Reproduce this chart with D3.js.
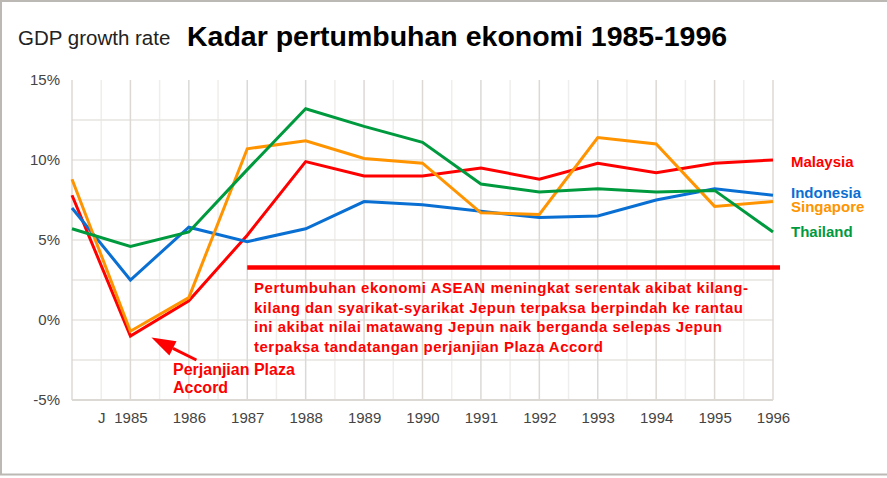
<!DOCTYPE html>
<html>
<head>
<meta charset="utf-8">
<script src="https://cdn.jsdelivr.net/npm/d3@7"></script>
<style>
  body { margin: 0; background: #fff; }
  svg { display: block; font-family: "Liberation Sans", Arial, sans-serif; }
</style>
</head>
<body>
<div id="chart"></div>
<script>
const years = [1984, 1985, 1986, 1987, 1988, 1989, 1990, 1991, 1992, 1993, 1994, 1995, 1996];

const malaysia  = [7.8, -1.0, 1.2, 5.3, 9.9, 9.0, 9.0, 9.5, 8.8, 9.8, 9.2, 9.8, 10.0];
const indonesia = [7.0, 2.5, 5.8, 4.9, 5.7, 7.4, 7.2, 6.8, 6.4, 6.5, 7.5, 8.2, 7.8];
const singapore = [8.8, -0.7, 1.4, 10.7, 11.2, 10.1, 9.8, 6.7, 6.6, 11.4, 11.0, 7.1, 7.4];
const thailand  = [5.7, 4.6, 5.5, 9.4, 13.2, 12.1, 11.1, 8.5, 8.0, 8.2, 8.0, 8.1, 5.5];

const seriesNames = ["Malaysia", "Indonesia", "Singapore", "Thailand"];
const xTickValues = [1984.5, 1985, 1986, 1987, 1988, 1989, 1990, 1991, 1992, 1993, 1994, 1995, 1996];
const xTickLabels = ["J", "1985", "1986", "1987", "1988", "1989", "1990", "1991", "1992", "1993", "1994", "1995", "1996"];
const yTickValues = [-5, 0, 5, 10, 15];

const noteLines = [
    "Pertumbuhan ekonomi ASEAN meningkat serentak akibat kilang-",
    "kilang dan syarikat-syarikat Jepun terpaksa berpindah ke rantau",
    "ini akibat nilai matawang Jepun naik berganda selepas Jepun",
    "terpaksa tandatangan perjanjian Plaza Accord"
];
const noteWidths = [494, 489, 468, 349];
const arrowLines = ["Perjanjian Plaza", "Accord"];

const width = 887, height = 478;
const margin = {top: 80, right: 114, bottom: 78, left: 72};

const series = [
    {name: seriesNames[0], values: malaysia,  color: "#ff0000", labelY: 167},
    {name: seriesNames[1], values: indonesia, color: "#0a6fd2", labelY: 198},
    {name: seriesNames[2], values: singapore, color: "#ff9400", labelY: 212},
    {name: seriesNames[3], values: thailand,  color: "#009a3e", labelY: 237}
];

const svg = d3.select("#chart").append("svg")
    .attr("width", width)
    .attr("height", height);

// outer frame
svg.append("rect")
    .attr("x", 1).attr("y", 1)
    .attr("width", width + 10).attr("height", 473.5)
    .attr("fill", "none")
    .attr("stroke", "#bcb8b4")
    .attr("stroke-width", 2);

const x = d3.scaleLinear().domain([1984, 1996]).range([margin.left, width - margin.right]);
const y = d3.scaleLinear().domain([-5, 15]).range([height - margin.bottom, margin.top]);

// grid
const grid = svg.append("g");
grid.selectAll(".vminor").data(d3.range(1984.5, 1996, 1)).enter().append("line")
    .attr("x1", d => x(d)).attr("x2", d => x(d))
    .attr("y1", y(15)).attr("y2", y(-5))
    .attr("stroke", "#efeeec").attr("stroke-width", 1.5);
grid.selectAll(".hgrid").data(d3.range(-2.5, 15, 2.5)).enter().append("line")
    .attr("x1", x(1984)).attr("x2", x(1996))
    .attr("y1", d => y(d)).attr("y2", d => y(d))
    .attr("stroke", "#e6e4e1").attr("stroke-width", 1.5);
grid.selectAll(".vmajor").data(d3.range(1985, 1997, 1)).enter().append("line")
    .attr("x1", d => x(d)).attr("x2", d => x(d))
    .attr("y1", y(15)).attr("y2", y(-5))
    .attr("stroke", "#dcd9d5").attr("stroke-width", 1.5);
grid.append("line")
    .attr("x1", x(1984)).attr("x2", x(1984))
    .attr("y1", y(15)).attr("y2", y(-5))
    .attr("stroke", "#dcd9d5").attr("stroke-width", 1.5);
grid.append("line")
    .attr("x1", x(1984)).attr("x2", x(1996))
    .attr("y1", y(-5)).attr("y2", y(-5))
    .attr("stroke", "#dcd9d5").attr("stroke-width", 2);

// axes (labels only)
const xAxis = d3.axisBottom(x)
    .tickValues(xTickValues)
    .tickFormat((d, i) => xTickLabels[i])
    .tickSize(0).tickPadding(12);
const xg = svg.append("g")
    .attr("transform", `translate(0,${y(-5)})`)
    .call(xAxis);
xg.select(".domain").remove();
xg.selectAll("text").attr("font-size", 15).attr("fill", "#444").attr("font-family", "Liberation Sans, Arial, sans-serif");

const yAxis = d3.axisLeft(y)
    .tickValues(yTickValues)
    .tickFormat(d => d + "%")
    .tickSize(0).tickPadding(12);
const yg = svg.append("g")
    .attr("transform", `translate(${x(1984)},0)`)
    .call(yAxis);
yg.select(".domain").remove();
yg.selectAll("text").attr("font-size", 15).attr("fill", "#444").attr("font-family", "Liberation Sans, Arial, sans-serif");

// lines
const line = d3.line()
    .x((d, i) => x(years[i]))
    .y(d => y(d));

svg.append("g").selectAll("path").data(series).enter().append("path")
    .attr("d", d => line(d.values))
    .attr("fill", "none")
    .attr("stroke", d => d.color)
    .attr("stroke-width", 3)
    .attr("stroke-linejoin", "miter");

// series labels
svg.append("g").selectAll("text").data(series).enter().append("text")
    .attr("x", 791)
    .attr("y", d => d.labelY)
    .attr("fill", d => d.color)
    .attr("font-size", 15)
    .attr("font-weight", "bold")
    .text(d => d.name);

// titles
svg.append("text")
    .attr("x", 18).attr("y", 45)
    .attr("font-size", 20.5)
    .attr("fill", "#222")
    .text("GDP growth rate");
svg.append("text")
    .attr("x", 187).attr("y", 46)
    .attr("font-size", 28.5)
    .attr("font-weight", "bold")
    .attr("fill", "#000")
    .text("Kadar pertumbuhan ekonomi 1985-1996");

// annotation: red bar + note
svg.append("line")
    .attr("x1", x(1987)).attr("x2", 780)
    .attr("y1", y(3.28)).attr("y2", y(3.28))
    .attr("stroke", "#ff0000")
    .attr("stroke-width", 4.5);

svg.append("g").selectAll("text").data(noteLines).enter().append("text")
    .attr("x", 254)
    .attr("y", (d, i) => 293 + i * 19.5)
    .attr("font-size", 15)
    .attr("font-weight", "bold")
    .attr("fill", "#ff0000")
    .attr("textLength", (d, i) => noteWidths[i])
    .attr("lengthAdjust", "spacing")
    .text(d => d);

// annotation: arrow to 1985 dip
const tip = [x(1985.36), y(-1.1)];
const tail = [x(1986.13), y(-2.5)];
const ang = Math.atan2(tail[1] - tip[1], tail[0] - tip[0]);
const headLen = 24, headW = 8;
const base = [tip[0] + headLen * Math.cos(ang), tip[1] + headLen * Math.sin(ang)];
svg.append("line")
    .attr("x1", base[0]).attr("y1", base[1])
    .attr("x2", tail[0]).attr("y2", tail[1])
    .attr("stroke", "#ff0000").attr("stroke-width", 3);
svg.append("path")
    .attr("d", d3.line()([
        tip,
        [base[0] - headW * Math.sin(ang), base[1] + headW * Math.cos(ang)],
        [base[0] + headW * Math.sin(ang), base[1] - headW * Math.cos(ang)]
    ]) + "Z")
    .attr("fill", "#ff0000");

svg.append("g").selectAll("text").data(arrowLines).enter().append("text")
    .attr("x", 173)
    .attr("y", (d, i) => 375 + i * 18)
    .attr("font-size", 16)
    .attr("font-weight", "bold")
    .attr("fill", "#ff0000")
    .text(d => d);
</script>
</body>
</html>
